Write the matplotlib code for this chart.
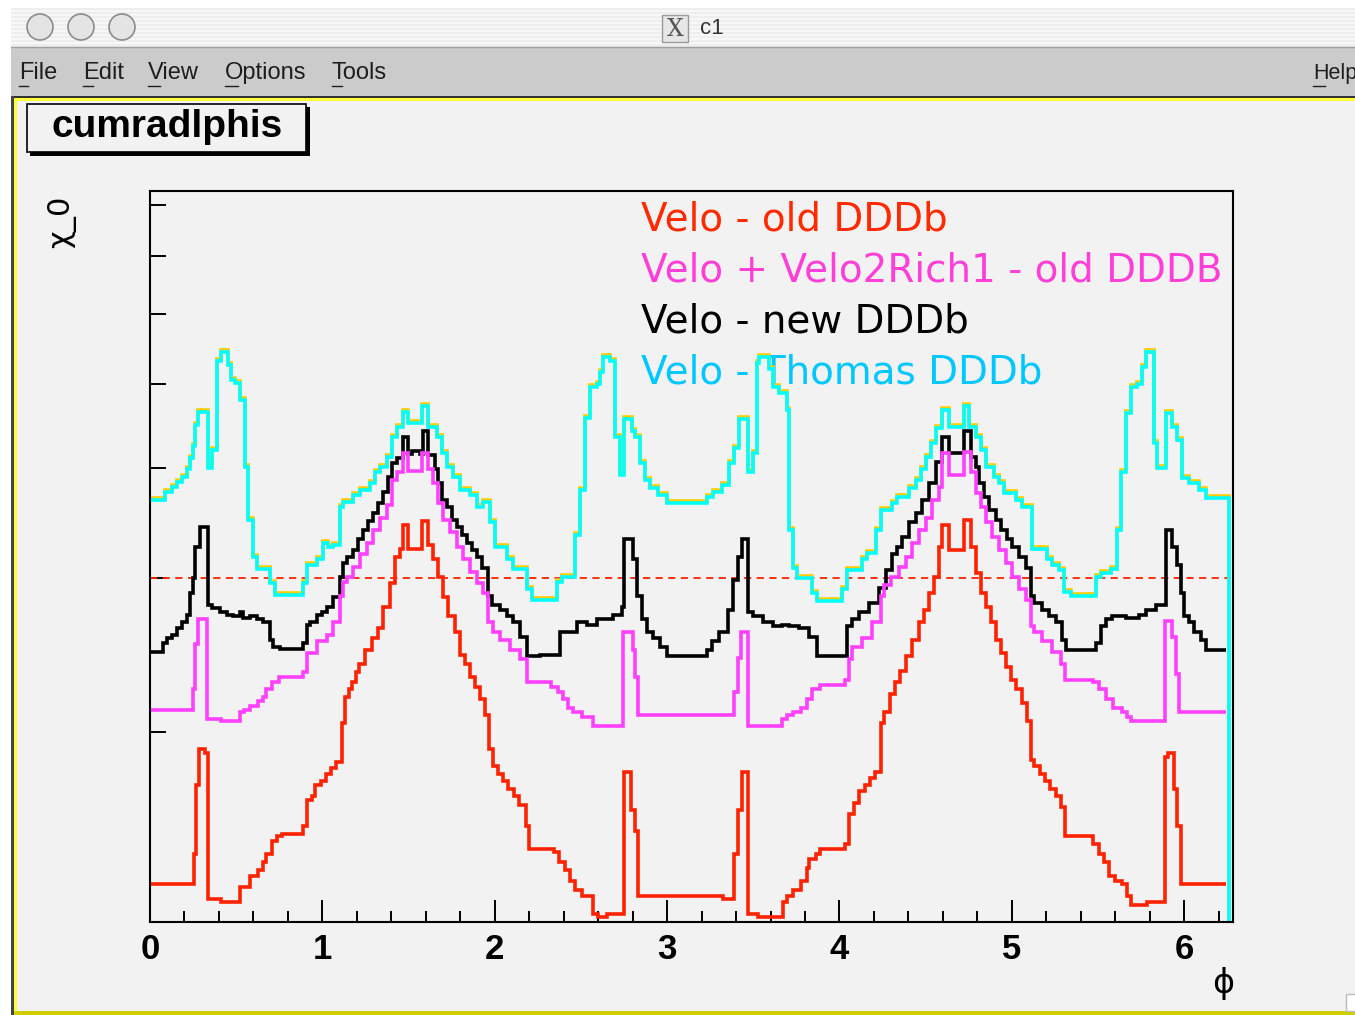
import matplotlib
matplotlib.use('Agg')
import matplotlib.pyplot as plt
from matplotlib.patches import Rectangle, Circle
from matplotlib.transforms import offset_copy
from matplotlib.ticker import MultipleLocator, FixedLocator, NullFormatter, NullLocator
import numpy as np

plt.rcParams['font.family'] = ['Liberation Sans', 'DejaVu Sans']

cyan = [
    (0.000, 3.68), (0.087, 3.76), (0.128, 3.81), (0.157, 3.86), (0.186, 3.91), (0.214, 3.99), (0.232, 4.11), (0.249, 4.24),
    (0.261, 4.49), (0.278, 4.64), (0.336, 4.01), (0.359, 4.20), (0.388, 5.30), (0.412, 5.44), (0.452, 5.25), (0.470, 5.05),
    (0.493, 5.01), (0.522, 4.79), (0.551, 4.02), (0.568, 3.49), (0.597, 3.17), (0.620, 3.07), (0.696, 2.96), (0.725, 2.87),
    (0.887, 2.96), (0.910, 3.10), (0.968, 3.15), (1.003, 3.29), (1.032, 3.25), (1.061, 3.27), (1.101, 3.61), (1.119, 3.66),
    (1.177, 3.73), (1.217, 3.78), (1.275, 3.85), (1.304, 3.96), (1.333, 4.02), (1.374, 4.12), (1.403, 4.35), (1.432, 4.46),
    (1.467, 4.64), (1.496, 4.51), (1.577, 4.71), (1.612, 4.46), (1.664, 4.35), (1.693, 4.17), (1.722, 4.02), (1.757, 3.91),
    (1.797, 3.78), (1.855, 3.73), (1.896, 3.61), (1.930, 3.66), (1.971, 3.47), (2.000, 3.25), (2.070, 3.15), (2.104, 3.07),
    (2.186, 2.91), (2.214, 2.83), (2.359, 2.97), (2.388, 3.01), (2.464, 3.36), (2.493, 3.78), (2.522, 4.57), (2.551, 4.95),
    (2.591, 5.00), (2.609, 5.15), (2.626, 5.36), (2.667, 5.30), (2.696, 4.35), (2.725, 3.93), (2.748, 4.55), (2.794, 4.41),
    (2.812, 4.35), (2.841, 4.06), (2.870, 3.88), (2.899, 3.80), (2.945, 3.73), (2.997, 3.65), (3.229, 3.71), (3.264, 3.76),
    (3.316, 3.83), (3.362, 4.06), (3.391, 4.22), (3.420, 4.55), (3.467, 3.96), (3.496, 4.17), (3.519, 5.28), (3.536, 5.36),
    (3.594, 5.19), (3.612, 4.96), (3.652, 4.88), (3.693, 4.67), (3.710, 3.40), (3.728, 3.08), (3.751, 3.00), (3.843, 2.88),
    (3.867, 2.82), (4.017, 2.91), (4.046, 3.06), (4.128, 3.15), (4.157, 3.20), (4.214, 3.40), (4.243, 3.59), (4.307, 3.65),
    (4.336, 3.71), (4.406, 3.80), (4.446, 3.88), (4.475, 3.99), (4.504, 4.12), (4.533, 4.28), (4.562, 4.45), (4.597, 4.67),
    (4.638, 4.46), (4.725, 4.71), (4.754, 4.46), (4.794, 4.35), (4.823, 4.20), (4.852, 4.02), (4.899, 3.91), (4.928, 3.85),
    (4.957, 3.75), (5.026, 3.68), (5.061, 3.61), (5.119, 3.24), (5.206, 3.15), (5.235, 3.10), (5.275, 3.06), (5.304, 2.89),
    (5.345, 2.86), (5.490, 3.01), (5.519, 3.04), (5.577, 3.07), (5.612, 3.40), (5.635, 3.96), (5.664, 4.63), (5.693, 4.96),
    (5.728, 5.00), (5.757, 5.23), (5.780, 5.43), (5.826, 4.28), (5.843, 4.01), (5.896, 4.63), (5.930, 4.46), (5.959, 4.31),
    (5.988, 3.90), (6.029, 3.85), (6.087, 3.78), (6.128, 3.70), (6.261, 0.0),
]
cyan_end = 6.283

black = [
    (0.000, 2.47), (0.075, 2.53), (0.099, 2.56), (0.128, 2.58), (0.157, 2.63), (0.186, 2.67), (0.214, 2.72), (0.232, 2.88),
    (0.249, 3.00), (0.261, 3.25), (0.290, 3.43), (0.336, 2.79), (0.359, 2.77), (0.406, 2.74), (0.446, 2.72), (0.481, 2.71),
    (0.522, 2.74), (0.539, 2.70), (0.580, 2.71), (0.620, 2.69), (0.655, 2.67), (0.696, 2.55), (0.713, 2.50), (0.754, 2.49),
    (0.887, 2.53), (0.910, 2.65), (0.928, 2.67), (0.968, 2.72), (0.997, 2.74), (1.026, 2.78), (1.061, 2.85), (1.101, 3.01),
    (1.119, 3.12), (1.142, 3.17), (1.177, 3.23), (1.206, 3.32), (1.235, 3.40), (1.264, 3.48), (1.293, 3.56), (1.322, 3.65),
    (1.351, 3.76), (1.380, 3.91), (1.403, 4.06), (1.432, 4.11), (1.467, 4.35), (1.496, 4.16), (1.519, 4.19), (1.565, 4.16),
    (1.583, 4.41), (1.612, 4.14), (1.652, 3.99), (1.670, 3.85), (1.693, 3.68), (1.722, 3.61), (1.751, 3.49), (1.780, 3.43),
    (1.809, 3.36), (1.838, 3.29), (1.867, 3.23), (1.896, 3.17), (1.925, 3.08), (1.959, 2.86), (1.983, 2.79), (2.029, 2.76),
    (2.070, 2.71), (2.104, 2.67), (2.145, 2.57), (2.186, 2.44), (2.261, 2.45), (2.377, 2.60), (2.475, 2.67), (2.533, 2.65),
    (2.591, 2.69), (2.684, 2.72), (2.736, 2.78), (2.748, 3.32), (2.800, 3.15), (2.823, 2.86), (2.852, 2.69), (2.881, 2.60),
    (2.916, 2.56), (2.957, 2.50), (2.997, 2.44), (3.229, 2.48), (3.258, 2.54), (3.304, 2.60), (3.351, 2.76), (3.380, 2.98),
    (3.409, 3.17), (3.432, 3.32), (3.467, 2.74), (3.496, 2.71), (3.554, 2.67), (3.612, 2.64), (3.664, 2.65), (3.710, 2.64),
    (3.768, 2.63), (3.826, 2.57), (3.867, 2.44), (4.041, 2.64), (4.075, 2.69), (4.116, 2.74), (4.174, 2.81), (4.232, 2.92),
    (4.272, 3.06), (4.307, 3.19), (4.336, 3.25), (4.365, 3.34), (4.406, 3.47), (4.446, 3.56), (4.481, 3.68), (4.522, 3.85),
    (4.562, 4.07), (4.597, 4.35), (4.638, 4.17), (4.725, 4.41), (4.765, 4.12), (4.794, 4.02), (4.812, 3.85), (4.841, 3.71),
    (4.870, 3.59), (4.910, 3.49), (4.939, 3.40), (4.974, 3.32), (5.003, 3.25), (5.043, 3.17), (5.084, 3.08), (5.113, 2.86),
    (5.130, 2.81), (5.177, 2.76), (5.217, 2.71), (5.258, 2.67), (5.293, 2.55), (5.316, 2.48), (5.490, 2.53), (5.519, 2.64),
    (5.548, 2.69), (5.583, 2.71), (5.664, 2.70), (5.739, 2.72), (5.780, 2.76), (5.838, 2.79), (5.896, 3.40), (5.930, 3.25),
    (5.959, 3.10), (5.983, 2.88), (6.000, 2.71), (6.029, 2.67), (6.058, 2.60), (6.099, 2.55), (6.128, 2.48),
]
black_end = 6.243

magenta = [
    (0.000, 2.12), (0.249, 2.24), (0.261, 2.52), (0.278, 2.69), (0.330, 2.07), (0.412, 2.06), (0.522, 2.11), (0.545, 2.12),
    (0.580, 2.14), (0.626, 2.17), (0.655, 2.19), (0.672, 2.24), (0.707, 2.28), (0.748, 2.31), (0.887, 2.34), (0.910, 2.46),
    (0.968, 2.54), (1.026, 2.58), (1.061, 2.67), (1.101, 2.86), (1.119, 2.97), (1.142, 3.01), (1.177, 3.09), (1.217, 3.19),
    (1.258, 3.29), (1.293, 3.40), (1.333, 3.51), (1.374, 3.63), (1.403, 3.88), (1.432, 3.96), (1.467, 4.17), (1.496, 3.97),
    (1.577, 4.17), (1.612, 3.99), (1.641, 3.85), (1.670, 3.65), (1.699, 3.49), (1.739, 3.38), (1.780, 3.25), (1.814, 3.15),
    (1.855, 3.05), (1.896, 2.96), (1.930, 2.88), (1.959, 2.67), (1.988, 2.60), (2.029, 2.55), (2.087, 2.48), (2.145, 2.42),
    (2.186, 2.28), (2.325, 2.25), (2.365, 2.22), (2.394, 2.18), (2.423, 2.13), (2.452, 2.11), (2.504, 2.08), (2.568, 2.03),
    (2.742, 2.60), (2.800, 2.48), (2.812, 2.31), (2.829, 2.09), (3.391, 2.22), (3.409, 2.43), (3.426, 2.60), (3.467, 2.03),
    (3.664, 2.07), (3.693, 2.09), (3.733, 2.11), (3.774, 2.13), (3.809, 2.18), (3.838, 2.24), (3.890, 2.26), (4.035, 2.29),
    (4.058, 2.42), (4.075, 2.50), (4.133, 2.56), (4.191, 2.67), (4.243, 2.86), (4.261, 2.94), (4.301, 3.01), (4.348, 3.09),
    (4.388, 3.17), (4.423, 3.29), (4.464, 3.40), (4.504, 3.51), (4.539, 3.68), (4.580, 3.81), (4.597, 4.17), (4.638, 3.93),
    (4.725, 4.18), (4.765, 3.96), (4.794, 3.75), (4.823, 3.61), (4.852, 3.47), (4.887, 3.34), (4.928, 3.23), (4.968, 3.12),
    (5.003, 3.01), (5.043, 2.91), (5.084, 2.83), (5.113, 2.64), (5.130, 2.60), (5.177, 2.54), (5.235, 2.47), (5.287, 2.39),
    (5.310, 2.29), (5.472, 2.28), (5.507, 2.24), (5.548, 2.18), (5.588, 2.13), (5.641, 2.11), (5.670, 2.08), (5.693, 2.06),
    (5.890, 2.68), (5.930, 2.57), (5.954, 2.33), (5.971, 2.11),
]
magenta_end = 6.243

red = [
    (0.000, 1.34), (0.255, 1.45), (0.267, 1.74), (0.284, 1.91), (0.319, 1.89), (0.336, 1.29), (0.412, 1.28), (0.522, 1.33),
    (0.580, 1.37), (0.626, 1.39), (0.655, 1.42), (0.672, 1.45), (0.707, 1.50), (0.736, 1.52), (0.765, 1.53), (0.887, 1.56),
    (0.910, 1.67), (0.939, 1.69), (0.957, 1.74), (0.991, 1.76), (1.020, 1.79), (1.049, 1.82), (1.078, 1.85), (1.113, 2.05),
    (1.130, 2.19), (1.154, 2.24), (1.171, 2.28), (1.194, 2.34), (1.212, 2.39), (1.246, 2.48), (1.287, 2.56), (1.322, 2.63),
    (1.351, 2.78), (1.391, 2.96), (1.420, 3.17), (1.449, 3.24), (1.467, 3.45), (1.496, 3.24), (1.577, 3.48), (1.612, 3.27),
    (1.641, 3.15), (1.670, 3.01), (1.699, 2.85), (1.728, 2.71), (1.768, 2.60), (1.797, 2.45), (1.826, 2.39), (1.855, 2.31),
    (1.884, 2.25), (1.913, 2.18), (1.942, 2.09), (1.965, 1.91), (1.988, 1.83), (2.017, 1.79), (2.046, 1.76), (2.075, 1.72),
    (2.110, 1.69), (2.139, 1.65), (2.180, 1.56), (2.197, 1.47), (2.342, 1.46), (2.371, 1.42), (2.406, 1.39), (2.435, 1.35),
    (2.464, 1.32), (2.504, 1.30), (2.568, 1.24), (2.597, 1.23), (2.649, 1.24), (2.748, 1.80), (2.788, 1.63), (2.812, 1.54),
    (2.829, 1.30), (3.322, 1.29), (3.391, 1.45), (3.414, 1.63), (3.432, 1.80), (3.467, 1.24), (3.530, 1.23), (3.600, 1.23),
    (3.675, 1.28), (3.693, 1.30), (3.733, 1.32), (3.774, 1.35), (3.809, 1.40), (3.826, 1.43), (3.861, 1.45), (3.890, 1.47),
    (4.035, 1.49), (4.058, 1.61), (4.087, 1.66), (4.116, 1.71), (4.151, 1.74), (4.180, 1.77), (4.209, 1.80), (4.243, 2.05),
    (4.261, 2.11), (4.296, 2.21), (4.325, 2.28), (4.354, 2.35), (4.388, 2.44), (4.423, 2.55), (4.464, 2.67), (4.493, 2.76),
    (4.522, 2.88), (4.551, 3.01), (4.580, 3.25), (4.597, 3.45), (4.638, 3.23), (4.725, 3.49), (4.765, 3.25), (4.794, 3.04),
    (4.823, 2.88), (4.852, 2.78), (4.881, 2.67), (4.910, 2.55), (4.939, 2.46), (4.968, 2.37), (4.997, 2.29), (5.026, 2.24),
    (5.061, 2.16), (5.090, 2.06), (5.113, 1.86), (5.130, 1.83), (5.165, 1.79), (5.194, 1.76), (5.223, 1.72), (5.258, 1.69),
    (5.287, 1.64), (5.310, 1.52), (5.472, 1.49), (5.507, 1.45), (5.536, 1.42), (5.565, 1.37), (5.600, 1.35), (5.641, 1.34),
    (5.670, 1.30), (5.693, 1.27), (5.786, 1.28), (5.890, 1.87), (5.907, 1.89), (5.942, 1.72), (5.959, 1.56), (5.983, 1.34),
]
red_end = 6.243

ref_level = 3.0
phi_max = 6.26
x_ticks = [0, 1, 2, 3, 4, 5, 6]
x_tick_labels = ['0', '1', '2', '3', '4', '5', '6']
y_ticks = [2, 3, 4, 5, 6, 7, 8]
y_range = (1.213, 8.30)

labels = ['Velo - old DDDb', 'Velo + Velo2Rich1 - old DDDB', 'Velo - new DDDb', 'Velo - Thomas DDDb']
label_colors = ['#ff2a00', '#ff3fd8', '#000000', '#00c8ff']
menu_items = ['File', 'Edit', 'View', 'Options', 'Tools', 'Help']


def split(steps, end):
    edges = [s[0] for s in steps] + [end]
    vals = [s[1] for s in steps]
    return vals, edges


W, H = 1355, 1015
fig = plt.figure(figsize=(W / 100, H / 100), dpi=100)
fig.patch.set_facecolor('white')

# window chrome, drawn in pixel units
bg = fig.add_axes([0, 0, 1, 1])
bg.set_xlim(0, W)
bg.set_ylim(H, 0)
bg.axis('off')

bg.add_patch(Rectangle((11, 8), W - 11, 39, fc='#eeeeee', ec='none'))
for yy in range(10, 46, 4):
    bg.add_patch(Rectangle((11, yy), W - 11, 2, fc='#f7f7f7', ec='none'))
bg.plot([11, W], [47, 47], color='#a0a0a0', lw=1)
for cx in (40, 81, 122):
    bg.add_patch(Circle((cx, 27), 13, fc='#e4e4e4', ec='#8c8c8c', lw=1.2))
bg.add_patch(Rectangle((662, 15), 26, 27, fc='#e6e6e6', ec='#9a9a9a', lw=1))
bg.text(675, 29, 'X', fontsize=17, family='DejaVu Serif', color='#555555', ha='center', va='center')
bg.text(700, 28, 'c1', fontsize=16, color='#333333', ha='left', va='center')

bg.add_patch(Rectangle((11, 48), W - 11, 48, fc='#cbcbcb', ec='none'))
menu_x = [19, 83, 148, 225, 332, 1313]
menu_u = [9, 10, 12, 13, 10, 12]
menu_fs = [17, 17, 17, 17, 17, 15.5]
for name, mx, uw, fs in zip(menu_items, menu_x, menu_u, menu_fs):
    bg.text(mx, 73, name, fontsize=fs, color='#1e1e1e', ha='left', va='center')
    bg.plot([mx, mx + uw], [86, 86], color='#1e1e1e', lw=1)

bg.add_patch(Rectangle((11, 96), W - 11, 2, fc='#333333', ec='none'))
bg.add_patch(Rectangle((11, 96), 2.5, H - 96, fc='#444444', ec='none'))
bg.add_patch(Rectangle((13.5, 98), W, 3, fc='#ffff3a', ec='none'))
bg.add_patch(Rectangle((13.5, 98), 3, H - 98, fc='#ffff3a', ec='none'))
bg.add_patch(Rectangle((16.5, 101), W, 911, fc='#f2f2f2', ec='none'))
bg.add_patch(Rectangle((13.5, 1011), W, 4, fc='#cfcf00', ec='none'))
bg.add_patch(Rectangle((1346, 994), 10, 17, fc='white', ec='#bbbbbb', lw=1))

# title pave
bg.add_patch(Rectangle((30, 107), 280, 49, fc='black', ec='none'))
bg.add_patch(Rectangle((27, 104), 279, 48, fc='#f2f2f2', ec='black', lw=1.2))
bg.text(167, 127, 'cumradlphis', fontsize=28, fontweight='bold', ha='center', va='center')

# histogram frame
ax = fig.add_axes([150 / W, 1 - 922 / H, 1083 / W, 731 / H])
ax.set_facecolor('#f2f2f2')
ax.set_yscale('log')

for i, (txt, col) in enumerate(zip(labels, label_colors)):
    ax.text(0.4534, 0.9454 - i * 0.0698, txt, transform=ax.transAxes, color=col,
            fontsize=28, family='DejaVu Sans', va='baseline', ha='left', zorder=1.5)

ax.hlines(ref_level, 0, phi_max, colors='#ff2200', linestyles=(0, (4, 3)), lw=1.3, zorder=1.8)

lw = 2.6
v, e = split(cyan, cyan_end)
ax.stairs(v, e, baseline=None, color='#ffcc00', lw=lw, zorder=2,
          transform=offset_copy(ax.transData, fig=fig, x=0, y=2, units='dots'))
ax.stairs(v, e, baseline=None, color='#00ffff', lw=lw, zorder=2.1)
v, e = split(black, black_end)
ax.stairs(v, e, baseline=None, color='black', lw=lw, zorder=2.2)
v, e = split(magenta, magenta_end)
ax.stairs(v, e, baseline=None, color='#ff40ff', lw=lw, zorder=2.3)
v, e = split(red, red_end)
ax.stairs(v, e, baseline=None, color='#ff2200', lw=lw, zorder=2.4)

ax.set_xlim(0, 2 * np.pi)
ax.set_ylim(*y_range)

ax.set_xticks(x_ticks)
ax.set_xticklabels(x_tick_labels, fontsize=25, fontweight='bold')
ax.xaxis.set_minor_locator(MultipleLocator(0.2))
ax.yaxis.set_major_locator(FixedLocator(y_ticks))
ax.yaxis.set_major_formatter(NullFormatter())
ax.yaxis.set_minor_locator(NullLocator())
ax.tick_params(axis='x', which='major', direction='in', length=16, width=1.4, pad=8, top=False)
ax.tick_params(axis='x', which='minor', direction='in', length=8, width=1.4, top=False)
ax.tick_params(axis='y', which='major', direction='in', length=11.5, width=1.4, right=False)
for s in ax.spines.values():
    s.set_linewidth(1.5)

fig.text(62 / W, 1 - 222 / H, 'χ_0', rotation=90, fontsize=22,
         family=['DejaVu Sans'], ha='center', va='center')
fig.text(1223 / W, 1 - 983 / H, 'ϕ', fontsize=24, family=['DejaVu Sans'], ha='center', va='center')

fig.savefig('out.png', dpi=100)
